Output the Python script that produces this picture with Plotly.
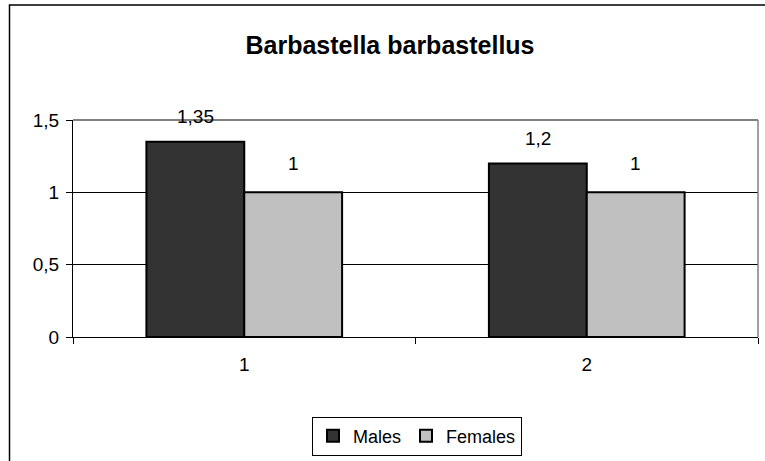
import plotly.graph_objects as go

categories = ["1", "2"]
males = [1.35, 1.2]
females = [1, 1]
male_labels = ["1,35", "1,2"]
female_labels = ["1", "1"]
y_ticks = [0, 0.5, 1, 1.5]
y_tick_labels = ["0", "0,5", "1", "1,5"]

W, H = 765, 461
L, R, T, B = 73, 758, 120, 338
FONT = "Liberation Sans, Arial"

fig = go.Figure()
fig.add_trace(go.Bar(
    x=categories, y=males, name="Males",
    marker=dict(color="#333333", line=dict(color="#000000", width=2)),
))
fig.add_trace(go.Bar(
    x=categories, y=females, name="Females",
    marker=dict(color="#c0c0c0", line=dict(color="#000000", width=2)),
))

def px_x(p):
    return (p - L) / (R - L)

def px_y(p):
    return (B - p) / (B - T)

annotations = []
for i, (v, lab) in enumerate(zip(males, male_labels)):
    annotations.append(dict(x=i, y=v, xref="x", yref="y", text=lab, showarrow=False,
                            xshift=-49, yshift=25, yanchor="middle",
                            font=dict(family=FONT, size=19, color="#000000")))
for i, (v, lab) in enumerate(zip(females, female_labels)):
    annotations.append(dict(x=i, y=v, xref="x", yref="y", text=lab, showarrow=False,
                            xshift=49, yshift=29, yanchor="middle",
                            font=dict(family=FONT, size=19, color="#000000")))

fig.update_layout(
    width=W, height=H,
    margin=dict(l=L, r=W - R, t=T, b=H - B, pad=0),
    paper_bgcolor="white", plot_bgcolor="white",
    barmode="group", bargap=0.4286, bargroupgap=0,
    font=dict(family=FONT, size=19, color="#000000"),
    title=dict(text="<b>Barbastella barbastellus</b>", x=390 / W, xref="container",
               xanchor="center", y=1 - 45 / H, yanchor="middle",
               font=dict(family=FONT, size=25, color="#000000")),
    showlegend=True,
    legend=dict(orientation="h", x=px_x(417), xanchor="center",
                y=px_y(436), yanchor="middle",
                bordercolor="#000000", borderwidth=1, bgcolor="white",
                font=dict(family=FONT, size=18, color="#000000"),
                itemwidth=30, tracegroupgap=0),
    xaxis=dict(type="category", tickson="boundaries", ticks="outside", ticklen=6,
               tickcolor="#000000", showline=True, linecolor="#000000", linewidth=1,
               showgrid=False, zeroline=False, mirror=False,
               ticklabelstandoff=10, tickfont=dict(size=19)),
    yaxis=dict(range=[0, 1.5], tickvals=y_ticks, ticktext=y_tick_labels,
               ticks="outside", ticklen=6, tickcolor="#000000",
               showline=True, linecolor="#000000", linewidth=1,
               showgrid=True, gridcolor="#000000", gridwidth=1,
               zeroline=False, ticklabelstandoff=3, tickfont=dict(size=19)),
    annotations=annotations,
    shapes=[
        dict(type="line", xref="paper", yref="paper", x0=0, x1=1, y0=1, y1=1,
             line=dict(color="#808080", width=2)),
        dict(type="line", xref="paper", yref="paper", x0=1, x1=1, y0=0, y1=1,
             line=dict(color="#808080", width=1.5)),
        dict(type="rect", xref="paper", yref="paper",
             x0=px_x(9.5), x1=px_x(775), y0=px_y(475), y1=px_y(4.5),
             line=dict(color="#000000", width=1.5), fillcolor="rgba(0,0,0,0)",
             layer="below"),
    ],
)

fig.write_html("out.html", config=dict(displayModeBar=False),
               post_script="document.body.style.margin='0';")
